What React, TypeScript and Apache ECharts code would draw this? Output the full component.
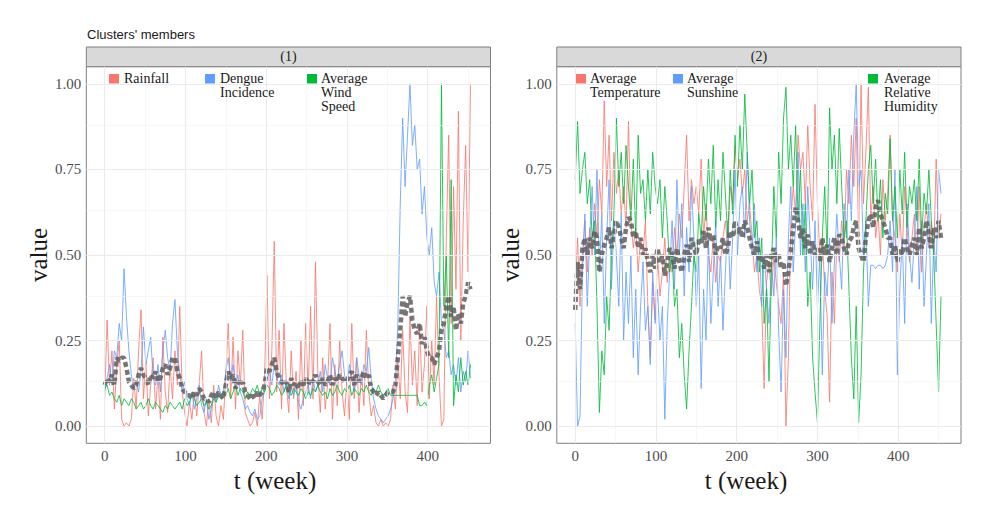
import React, { useEffect, useRef } from "react";
import * as echarts from "echarts";

// Weekly series, sampled every WEEK_STEP weeks (t = 0, 3, ..., 453), scaled to [0, 1].
const WEEK_STEP = 3;

// Cluster (1)
const rainfall = [
  0.08, 0.31, 0.12, 0.22, 0.05, 0.18, 0.25, 0.02, 0.0, 0.01,
  0.0, 0.02, 0.14, 0.05, 0.22, 0.34, 0.08, 0.19, 0.03, 0.12,
  0.2, 0.05, 0.15, 0.02, 0.26, 0.1, 0.04, 0.18, 0.08, 0.22,
  0.12, 0.35, 0.1, 0.04, 0.0, 0.07, 0.02, 0.1, 0.03, 0.12,
  0.22, 0.04, 0.0, 0.08, 0.01, 0.12, 0.03, 0.0, 0.06, 0.02,
  0.15, 0.3, 0.08, 0.26, 0.05, 0.22, 0.12, 0.28, 0.04, 0.02,
  0.0, 0.01, 0.04, 0.0, 0.09, 0.02, 0.14, 0.44, 0.08, 0.22,
  0.54, 0.1, 0.28, 0.05, 0.3, 0.12, 0.04, 0.22, 0.08, 0.16,
  0.02, 0.25, 0.06, 0.3, 0.1, 0.35, 0.08, 0.48, 0.15, 0.04,
  0.2, 0.05, 0.12, 0.3, 0.02, 0.18, 0.06, 0.25, 0.1, 0.03,
  0.14, 0.02, 0.3, 0.08, 0.2, 0.04, 0.16, 0.06, 0.28, 0.1,
  0.03, 0.06, 0.01, 0.0, 0.02, 0.0, 0.01, 0.0, 0.02, 0.12,
  0.05, 0.2, 0.08, 0.28, 0.1, 0.04, 0.32, 0.12, 0.22, 0.06,
  0.3, 0.1, 0.18, 0.35, 0.08, 0.25, 0.12, 0.38, 0.15, 0.0,
  0.02, 0.55, 0.85, 0.3, 0.7, 0.4, 0.92, 0.25, 0.6, 0.82,
  0.45, 1.0,
];
const dengueIncidence = [
  0.1, 0.14, 0.18, 0.12, 0.22, 0.2, 0.3, 0.25, 0.46, 0.32,
  0.22, 0.15, 0.11, 0.13, 0.1, 0.16, 0.29, 0.18, 0.22, 0.26,
  0.14, 0.12, 0.18, 0.1, 0.22, 0.28, 0.2, 0.16, 0.3, 0.37,
  0.22, 0.15, 0.1, 0.13, 0.08, 0.06, 0.1, 0.05, 0.08, 0.12,
  0.06, 0.04, 0.08, 0.02, 0.05, 0.1, 0.07, 0.12, 0.09, 0.1,
  0.16, 0.2, 0.13, 0.18, 0.12, 0.15, 0.1, 0.08, 0.05, 0.06,
  0.04, 0.03, 0.05, 0.02, 0.03, 0.08, 0.1, 0.14, 0.16, 0.12,
  0.18, 0.14, 0.12, 0.15, 0.1, 0.13, 0.08, 0.11, 0.09, 0.12,
  0.07, 0.05, 0.08, 0.1, 0.12, 0.08, 0.14, 0.1, 0.12, 0.16,
  0.1, 0.18, 0.14, 0.12, 0.2, 0.16, 0.13, 0.18, 0.22, 0.15,
  0.12, 0.18, 0.14, 0.1, 0.2, 0.15, 0.12, 0.18, 0.16, 0.23,
  0.14, 0.08, 0.05, 0.03, 0.02, 0.01, 0.02, 0.03, 0.05, 0.08,
  0.12, 0.3, 0.65, 0.9, 0.7, 0.85, 1.0, 0.82, 0.88, 0.75,
  0.78, 0.62, 0.7, 0.55, 0.5, 0.58, 0.42, 0.38, 0.45, 0.3,
  0.28, 0.2, 0.22, 0.15, 0.18, 0.12, 0.2, 0.1, 0.16, 0.13,
  0.22, 0.14,
];
const windSpeed = [
  0.11, 0.12, 0.09, 0.1, 0.08, 0.07, 0.09, 0.06, 0.08, 0.07,
  0.06, 0.08, 0.07, 0.05, 0.06, 0.07, 0.05, 0.06, 0.08, 0.06,
  0.05, 0.07, 0.06, 0.05, 0.04, 0.06, 0.05, 0.07, 0.06, 0.05,
  0.06, 0.07, 0.05, 0.08, 0.06, 0.07, 0.09, 0.08, 0.06, 0.07,
  0.08, 0.06, 0.07, 0.05, 0.06, 0.08, 0.07, 0.09, 0.08, 0.1,
  0.09, 0.11, 0.08, 0.1, 0.12, 0.09, 0.11, 0.1, 0.08, 0.1,
  0.09, 0.11, 0.1, 0.12, 0.09, 0.11, 0.1, 0.12, 0.11, 0.09,
  0.1, 0.12, 0.11, 0.09, 0.1, 0.12, 0.1, 0.09, 0.11, 0.1,
  0.09, 0.11, 0.1, 0.08, 0.1, 0.09, 0.11, 0.1, 0.12, 0.1,
  0.09, 0.1, 0.08, 0.11, 0.09, 0.1, 0.12, 0.1, 0.09, 0.11,
  0.1, 0.12, 0.09, 0.11, 0.1, 0.09, 0.11, 0.1, 0.12, 0.1,
  0.09, 0.11, 0.1, 0.12, 0.1, 0.09, 0.1, 0.11, 0.09, 0.09,
  0.09, 0.09, 0.09, 0.09, 0.09, 0.09, 0.09, 0.09, 0.09, 0.09,
  0.06, 0.06, 0.07, 0.06, 0.12, 0.15, 0.1, 0.14, 0.18, 1.0,
  0.35, 0.5, 0.2, 0.72, 0.06, 0.15, 0.1, 0.2, 0.12, 0.16,
  0.12, 0.18,
];
const centroid1 = [
  0.12, 0.14, 0.13, 0.15, 0.12, 0.2, 0.19, 0.2, 0.2, 0.17,
  0.13, 0.12, 0.11, 0.12, 0.15, 0.17, 0.15, 0.14, 0.12, 0.15,
  0.14, 0.16, 0.13, 0.14, 0.17, 0.18, 0.15, 0.17, 0.2, 0.2,
  0.16, 0.14, 0.11, 0.1, 0.09, 0.09, 0.08, 0.1, 0.09, 0.11,
  0.1, 0.08, 0.08, 0.07, 0.09, 0.1, 0.08, 0.1, 0.09, 0.08,
  0.12, 0.16, 0.14, 0.15, 0.11, 0.13, 0.12, 0.13, 0.1, 0.09,
  0.08, 0.09, 0.08, 0.1, 0.09, 0.1, 0.12, 0.17, 0.16, 0.18,
  0.2, 0.16, 0.14, 0.13, 0.12, 0.13, 0.1, 0.14, 0.12, 0.13,
  0.11, 0.13, 0.12, 0.14, 0.12, 0.14, 0.13, 0.15, 0.13, 0.12,
  0.14, 0.12, 0.13, 0.15, 0.12, 0.14, 0.13, 0.15, 0.14, 0.13,
  0.13, 0.15, 0.16, 0.12, 0.15, 0.13, 0.14, 0.16, 0.14, 0.15,
  0.11, 0.1, 0.09, 0.1, 0.09, 0.08, 0.09, 0.1, 0.1, 0.1,
  0.12, 0.2, 0.28, 0.38, 0.32, 0.36, 0.38, 0.31, 0.28, 0.27,
  0.3, 0.24, 0.26, 0.22, 0.2, 0.2, 0.18, 0.2, 0.22, 0.28,
  0.3, 0.35, 0.38, 0.32, 0.35, 0.28, 0.33, 0.3, 0.36, 0.38,
  0.42, 0.4,
];

// Cluster (2)
const temperature = [
  0.4, 0.55, 0.35, 0.5, 0.6, 0.45, 0.58, 0.5, 0.65, 0.55,
  0.72, 0.62, 0.95, 0.7, 0.85, 0.6, 0.8, 0.68, 0.75, 0.62,
  0.7, 0.58, 0.89, 0.6, 0.52, 0.58, 0.45, 0.55, 0.5, 0.6,
  0.35, 0.2, 0.42, 0.31, 0.5, 0.38, 0.45, 0.55, 0.42, 0.5,
  0.45, 0.58, 0.5, 0.62, 0.55, 0.7, 0.85, 0.6, 0.72, 0.65,
  0.7, 0.62, 0.78, 0.55, 0.65, 0.5, 0.45, 0.55, 0.42, 0.5,
  0.48, 0.55, 0.6, 0.52, 0.7, 0.65, 0.82, 0.72, 0.78, 0.68,
  0.75, 0.6, 0.65, 0.55, 0.45, 0.5, 0.4, 0.35, 0.11, 0.42,
  0.48, 0.38, 0.5, 0.42, 0.35, 0.3, 0.45, 0.0, 0.2, 0.6,
  0.7, 0.62, 0.85, 0.75, 0.8, 0.65, 0.88, 0.7, 0.6, 0.94,
  0.65, 0.5, 0.55, 0.4, 0.32, 0.07, 0.45, 0.3, 0.55, 0.48,
  0.6, 0.52, 0.75, 0.65, 0.85, 0.7, 0.9, 0.55, 1.0, 0.65,
  0.8, 0.99, 0.6, 0.7, 0.55, 0.62, 0.5, 0.72, 0.6, 0.68,
  0.85, 0.6, 0.55, 0.45, 0.62, 0.5, 0.7, 0.58, 0.48, 0.55,
  0.62, 0.5, 0.7, 0.45, 0.58, 0.65, 0.52, 0.6, 0.5, 0.78,
  0.55, 0.62,
];
const sunshine = [
  0.3, 0.0, 0.03, 0.45, 0.62, 0.35, 0.55, 0.7, 0.5, 0.75,
  0.45, 0.62, 0.3, 0.55, 0.72, 0.4, 0.6, 0.5, 0.35, 0.62,
  0.25, 0.45, 0.3, 0.5, 0.2, 0.4, 0.15, 0.35, 0.48, 0.28,
  0.35, 0.18, 0.45, 0.3, 0.4, 0.25, 0.35, 0.02, 0.3, 0.45,
  0.6, 0.4, 0.72, 0.5, 0.65, 0.38, 0.58, 0.45, 0.7, 0.55,
  0.35, 0.5, 0.11, 0.4, 0.25, 0.55, 0.3, 0.45, 0.6, 0.35,
  0.5, 0.28, 0.45, 0.6, 0.4, 0.55, 0.75, 0.5, 0.65, 0.7,
  0.55, 0.8, 0.6, 0.5, 0.65, 0.45, 0.55, 0.35, 0.5, 0.4,
  0.3, 0.48, 0.38, 0.55, 0.28, 0.1, 0.4, 0.2, 0.55, 0.7,
  0.45, 0.6, 0.8, 0.5, 0.65, 0.45, 0.7, 0.55, 0.4, 0.6,
  0.35, 0.5, 0.15, 0.45, 0.38, 0.55, 0.3, 0.48, 0.62, 0.5,
  0.4, 0.65, 0.55, 0.75, 0.6, 0.85, 1.0, 0.7, 0.75, 0.5,
  0.6, 0.35, 0.47, 0.47, 0.46, 0.47, 0.47, 0.46, 0.47, 0.5,
  0.6, 0.45, 0.75, 0.15, 0.4, 0.55, 0.3, 0.65, 0.5, 0.42,
  0.55, 0.7, 0.4, 0.6, 0.35, 0.5, 0.65, 0.3, 0.55, 0.45,
  0.75, 0.68,
];
const relativeHumidity = [
  0.72, 0.89, 0.68, 0.75, 0.8, 0.65, 0.72, 0.55, 0.6, 0.35,
  0.04, 0.22, 0.15, 0.38, 0.28, 0.5, 0.62, 0.9, 0.7, 0.8,
  0.65, 0.82, 0.7, 0.6, 0.78, 0.55, 0.85, 0.68, 0.72, 0.6,
  0.75, 0.62, 0.8, 0.7, 0.65, 0.72, 0.55, 0.7, 0.6, 0.45,
  0.5, 0.35, 0.4, 0.2, 0.3, 0.15, 0.05, 0.22, 0.35, 0.5,
  0.45, 0.62, 0.55, 0.7, 0.6, 0.78, 0.65, 0.82, 0.58, 0.72,
  0.6, 0.8, 0.68, 0.55, 0.75, 0.62, 0.85, 0.7, 0.88, 0.75,
  0.97, 0.8, 0.65, 0.75, 0.55, 0.6, 0.45, 0.55, 0.3, 0.4,
  0.13, 0.45, 0.7, 0.55, 0.8, 0.65, 0.9, 0.99, 0.75, 0.85,
  0.7, 0.88, 0.6, 0.75, 0.5, 0.65, 0.35, 0.45, 0.2, 0.1,
  0.01, 0.3, 0.55, 0.7, 0.5, 0.93, 0.75, 0.85, 0.65, 0.87,
  0.7, 0.55, 0.6, 0.4, 0.2, 0.08, 0.35, 0.01, 0.15, 0.45,
  0.6, 0.75, 0.82, 0.65, 0.78, 0.6, 0.72, 0.55, 0.68, 0.62,
  0.84, 0.6, 0.7, 0.55, 0.75, 0.62, 0.8, 0.58, 0.7, 0.65,
  0.72, 0.6, 0.78, 0.55, 0.68, 0.62, 0.75, 0.6, 0.5, 0.3,
  0.1, 0.38,
];
const centroid2 = [
  0.34, 0.48, 0.4, 0.52, 0.55, 0.5, 0.55, 0.52, 0.57, 0.55,
  0.45, 0.5, 0.53, 0.55, 0.58, 0.52, 0.56, 0.6, 0.58, 0.55,
  0.52, 0.58, 0.61, 0.6, 0.55, 0.57, 0.52, 0.55, 0.5, 0.52,
  0.48, 0.45, 0.5, 0.46, 0.52, 0.48, 0.5, 0.44, 0.48, 0.52,
  0.5, 0.46, 0.52, 0.48, 0.45, 0.5, 0.53, 0.48, 0.55, 0.52,
  0.5, 0.55, 0.53, 0.57, 0.52, 0.58, 0.54, 0.56, 0.5, 0.53,
  0.52, 0.55, 0.5, 0.52, 0.57, 0.55, 0.6, 0.56, 0.58, 0.55,
  0.6, 0.58, 0.55, 0.52, 0.5, 0.54, 0.48, 0.5, 0.46, 0.5,
  0.45, 0.5, 0.52, 0.48, 0.5, 0.46, 0.48, 0.41, 0.45, 0.51,
  0.58, 0.64, 0.6, 0.55, 0.58, 0.52, 0.56, 0.5, 0.54, 0.5,
  0.52, 0.48, 0.55, 0.5, 0.53, 0.48, 0.52, 0.55, 0.5, 0.56,
  0.55, 0.52, 0.5, 0.54, 0.55, 0.58, 0.6, 0.52, 0.5, 0.48,
  0.55, 0.6, 0.62, 0.58, 0.64, 0.66, 0.62, 0.6, 0.58, 0.55,
  0.55, 0.5, 0.53, 0.48, 0.52, 0.5, 0.55, 0.52, 0.5, 0.53,
  0.55, 0.5, 0.58, 0.52, 0.55, 0.6, 0.56, 0.52, 0.58, 0.55,
  0.6, 0.55,
];

const X_TICKS = [0, 100, 200, 300, 400];
const X_MINOR = [50, 150, 250, 350, 450];
const Y_TICKS = [0, 0.25, 0.5, 0.75, 1];
const Y_MINOR = [0.125, 0.375, 0.625, 0.875];

const RED = "#F8766D";
const BLUE = "#619CFF";
const GREEN = "#00BA38";

const SERIF = "'Liberation Serif', 'DejaVu Serif', serif";

const panels = [
  {
    strip: "(1)",
    members: [
      { name: "Rainfall", label: "Rainfall", values: rainfall, color: RED },
      { name: "Dengue Incidence", label: "Dengue\nIncidence", values: dengueIncidence, color: BLUE },
      { name: "Average Wind Speed", label: "Average\nWind\nSpeed", values: windSpeed, color: GREEN },
    ],
    centroid: centroid1,
    grid: { left: 86.3, width: 404.2 },
    legendX: [109, 205, 307],
    textX: [124, 220, 321],
    xTitleX: 275,
    yTitleX: 38,
  },
  {
    strip: "(2)",
    members: [
      { name: "Average Temperature", label: "Average\nTemperature", values: temperature, color: RED },
      { name: "Average Sunshine", label: "Average\nSunshine", values: sunshine, color: BLUE },
      { name: "Average Relative Humidity", label: "Average\nRelative\nHumidity", values: relativeHumidity, color: GREEN },
    ],
    centroid: centroid2,
    grid: { left: 556.8, width: 404.2 },
    legendX: [576, 673, 868],
    textX: [590, 687, 884],
    xTitleX: 746,
    yTitleX: 510,
  },
];

const GRID_TOP = 66.7;
const GRID_HEIGHT = 376.6;
const STRIP_H = 19.7;

const toPoints = (values: number[]) => values.map((v, i) => [i * WEEK_STEP, v]);

export default function App() {
  const ref = useRef<HTMLDivElement>(null);

  useEffect(() => {
    if (!ref.current) return;
    const chart = echarts.init(ref.current, undefined, { renderer: "svg" });

    const grids = panels.map((p) => ({
      left: p.grid.left,
      top: GRID_TOP,
      width: p.grid.width,
      height: GRID_HEIGHT,
      show: true,
      borderColor: "#7F7F7F",
      borderWidth: 1,
      backgroundColor: "#FFFFFF",
    }));

    const xAxes = panels.map((_, i) => ({
      gridIndex: i,
      type: "value",
      min: -22.75,
      max: 477.75,
      axisLine: { show: false },
      splitLine: { show: false },
      axisTick: { show: true, customValues: X_TICKS, length: 4, lineStyle: { color: "#333333" } },
      axisLabel: {
        customValues: X_TICKS,
        color: "#4D4D4D",
        fontFamily: SERIF,
        fontSize: 15,
        margin: 5,
      },
    }));

    const yAxes = panels.map((_, i) => ({
      gridIndex: i,
      type: "value",
      min: -0.05,
      max: 1.05,
      axisLine: { show: false },
      splitLine: { show: false },
      axisTick: { show: true, customValues: Y_TICKS, length: 4, lineStyle: { color: "#333333" } },
      axisLabel: {
        customValues: Y_TICKS,
        formatter: (v: number) => v.toFixed(2),
        color: "#4D4D4D",
        fontFamily: SERIF,
        fontSize: 15,
        margin: 5,
      },
    }));

    const series: any[] = [];
    panels.forEach((p, i) => {
      // panel grid lines (major and minor), placed on the axes' scales
      series.push({
        type: "line",
        xAxisIndex: i,
        yAxisIndex: i,
        data: [[0, 0]],
        symbol: "none",
        lineStyle: { opacity: 0 },
        silent: true,
        z: 1,
        markLine: {
          silent: true,
          symbol: "none",
          label: { show: false },
          animation: false,
          data: [
            ...X_TICKS.map((x) => ({ xAxis: x, lineStyle: { color: "#EBEBEB", width: 1.1, type: "solid" } })),
            ...X_MINOR.map((x) => ({ xAxis: x, lineStyle: { color: "#F2F2F2", width: 0.6, type: "solid" } })),
            ...Y_TICKS.map((y) => ({ yAxis: y, lineStyle: { color: "#EBEBEB", width: 1.1, type: "solid" } })),
            ...Y_MINOR.map((y) => ({ yAxis: y, lineStyle: { color: "#F2F2F2", width: 0.6, type: "solid" } })),
          ],
        },
      });
      p.members.forEach((m) => {
        series.push({
          name: m.name,
          type: "line",
          xAxisIndex: i,
          yAxisIndex: i,
          data: toPoints(m.values),
          symbol: "none",
          z: 3,
          lineStyle: { color: m.color, width: 1, opacity: 0.82 },
        });
      });
      series.push({
        name: "Cluster centroid " + (i + 1),
        type: "line",
        xAxisIndex: i,
        yAxisIndex: i,
        data: toPoints(p.centroid),
        symbol: "none",
        z: 4,
        lineStyle: { color: "#5E5E5E", width: 4.5, type: [5, 3], cap: "butt", opacity: 0.85 },
      });
    });

    const graphic: any[] = [
      {
        type: "text",
        left: 87,
        top: 28,
        style: {
          text: "Clusters' members",
          font: "13px 'Liberation Sans', Arial, sans-serif",
          fill: "#1A1A1A",
        },
      },
    ];
    panels.forEach((p) => {
      graphic.push({
        type: "rect",
        shape: { x: p.grid.left, y: GRID_TOP - STRIP_H, width: p.grid.width, height: STRIP_H },
        style: { fill: "#D9D9D9", stroke: "#7F7F7F", lineWidth: 1 },
      });
      graphic.push({
        type: "text",
        x: p.grid.left + p.grid.width / 2,
        y: GRID_TOP - STRIP_H / 2,
        style: {
          text: p.strip,
          font: `14px ${SERIF}`,
          fill: "#1A1A1A",
          align: "center",
          verticalAlign: "middle",
        },
      });
      p.members.forEach((m, k) => {
        graphic.push({
          type: "rect",
          z: 10,
          shape: { x: p.legendX[k], y: 74, width: 10, height: 9.5 },
          style: { fill: m.color },
        });
        graphic.push({
          type: "text",
          z: 10,
          x: p.textX[k],
          y: 71.5,
          style: {
            text: m.label,
            font: `14px ${SERIF}`,
            lineHeight: 14,
            fill: "#1A1A1A",
            verticalAlign: "top",
          },
        });
      });
      graphic.push({
        type: "text",
        x: p.xTitleX,
        y: 480,
        style: {
          text: "t (week)",
          font: `25px ${SERIF}`,
          fill: "#1A1A1A",
          align: "center",
          verticalAlign: "middle",
        },
      });
      graphic.push({
        type: "text",
        x: p.yTitleX,
        y: GRID_TOP + GRID_HEIGHT / 2,
        rotation: Math.PI / 2,
        style: {
          text: "value",
          font: `25px ${SERIF}`,
          fill: "#1A1A1A",
          align: "center",
          verticalAlign: "middle",
        },
      });
    });

    chart.setOption({
      animation: false,
      grid: grids,
      xAxis: xAxes,
      yAxis: yAxes,
      series,
      graphic,
    });

    return () => chart.dispose();
  }, []);

  return (
    <div
      ref={ref}
      style={{ position: "fixed", left: 0, top: 0, width: 993, height: 511, background: "#FFFFFF" }}
    />
  );
}
